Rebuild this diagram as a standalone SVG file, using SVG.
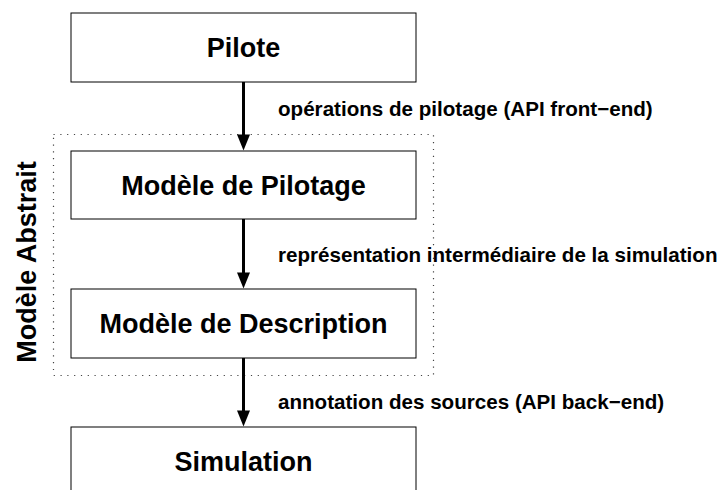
<svg xmlns="http://www.w3.org/2000/svg" width="720" height="490" viewBox="0 0 720 490">
<style>
.box{fill:#fff;stroke:#000;stroke-width:1}
.nt{font-family:"Liberation Sans",Arial,sans-serif;font-weight:bold;font-size:27px;text-anchor:middle;fill:#000}
.lb{font-family:"Liberation Sans",Arial,sans-serif;font-weight:bold;font-size:20.6px;fill:#000}
.ln{stroke:#000;stroke-width:3;fill:none}
.hd{fill:#000}
.grp{fill:none;stroke:#444;stroke-width:1.2;stroke-dasharray:1.2 5.6}
</style>
<rect width="720" height="490" fill="#fff"/>
<g id="abstract">
<rect class="grp" x="53.5" y="134.5" width="380" height="241"/>
<text class="nt" transform="translate(36,262) rotate(-90)">Modèle Abstrait</text>
</g>
<g id="pilote">
<rect class="box" x="71" y="13" width="345" height="69"/>
<text class="nt" x="243.5" y="57">Pilote</text>
</g>
<g id="modele-pilotage">
<rect class="box" x="71" y="151" width="345" height="68"/>
<text class="nt" x="243.5" y="195">Modèle de Pilotage</text>
</g>
<g id="modele-description">
<rect class="box" x="71" y="289" width="345" height="69"/>
<text class="nt" x="243.5" y="333">Modèle de Description</text>
</g>
<g id="simulation">
<rect class="box" x="71" y="427" width="345" height="80"/>
<text class="nt" x="243.5" y="471">Simulation</text>
</g>
<g id="connectors">
<line class="ln" x1="243.5" y1="82" x2="243.5" y2="136"/>
<polygon class="hd" points="237,134.5 250,134.5 243.5,150.5"/>
<text class="lb" x="278" y="116">opérations de pilotage (API front−end)</text>
<line class="ln" x1="243.5" y1="219" x2="243.5" y2="274"/>
<polygon class="hd" points="237,272.5 250,272.5 243.5,288.5"/>
<text class="lb" x="278" y="262">représentation intermédiaire de la simulation</text>
<line class="ln" x1="243.5" y1="358" x2="243.5" y2="412"/>
<polygon class="hd" points="237,410.5 250,410.5 243.5,426.5"/>
<text class="lb" x="278" y="409">annotation des sources (API back−end)</text>
</g>
</svg>
